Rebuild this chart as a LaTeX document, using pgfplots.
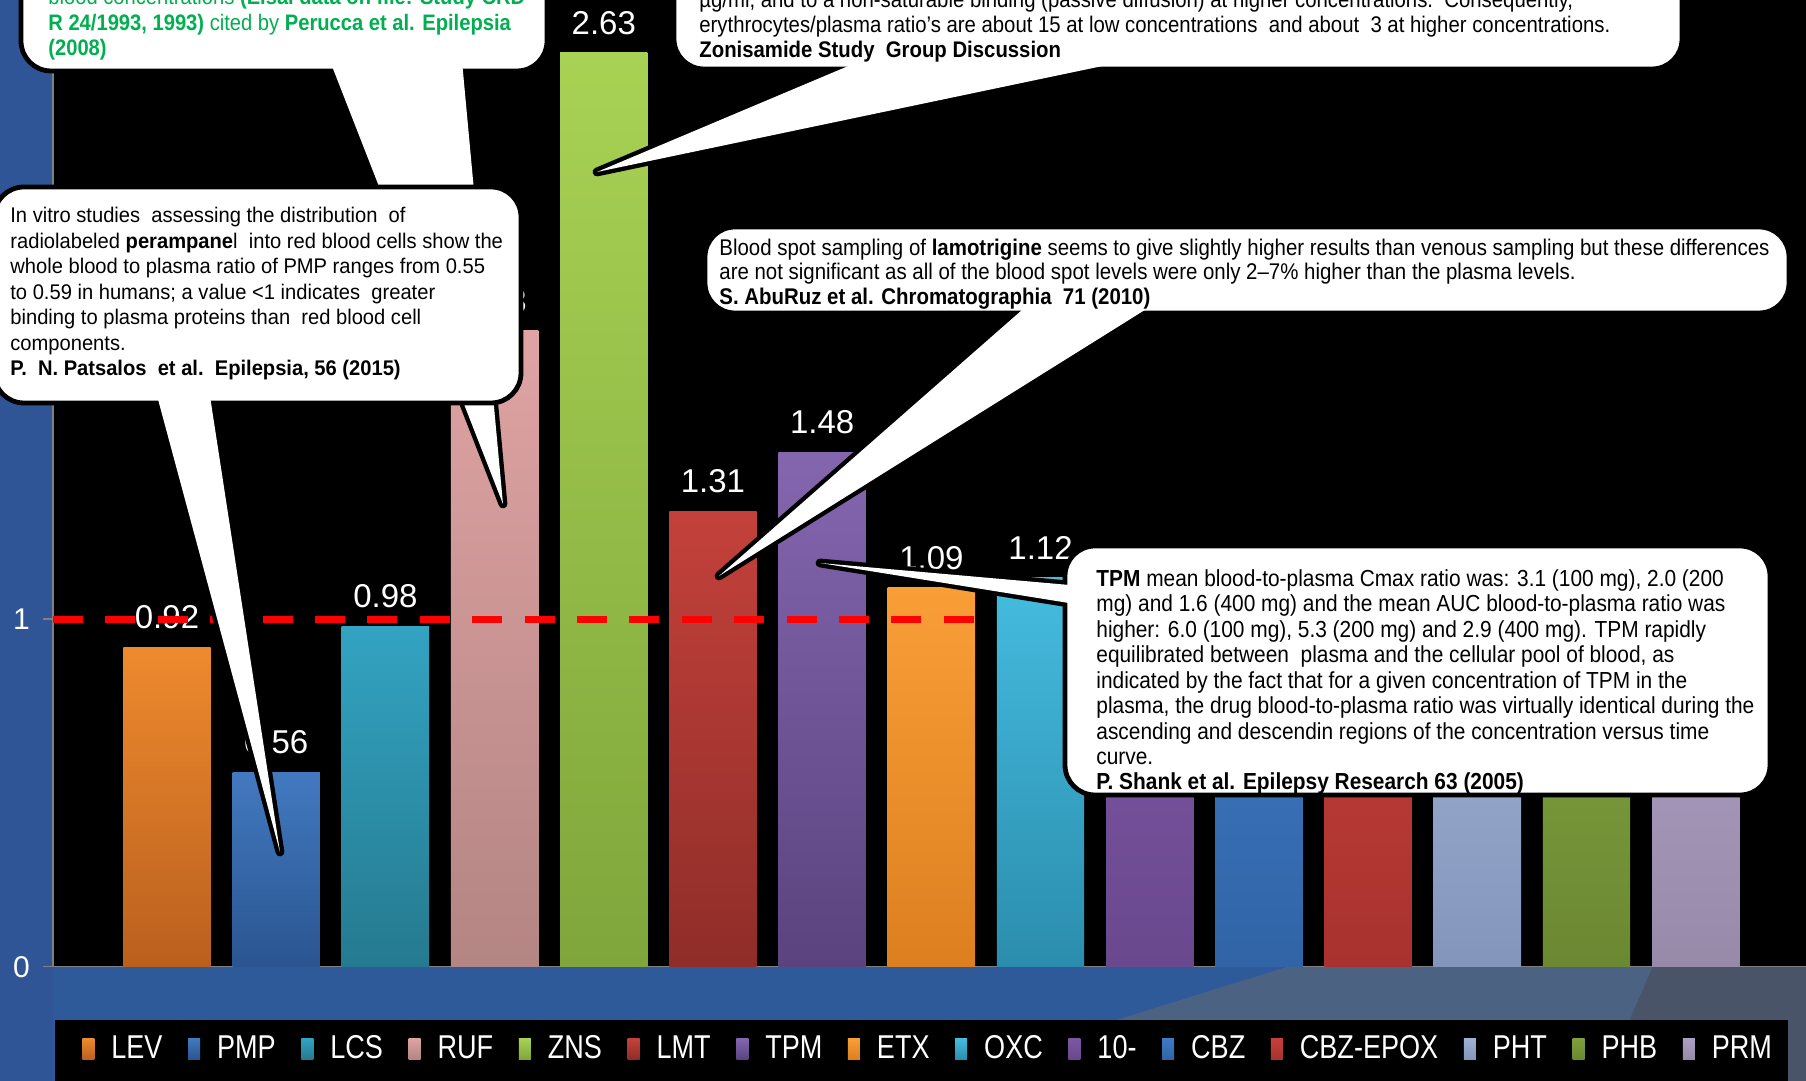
\documentclass[border=0pt]{standalone}
\usepackage{fontspec}
\setmainfont{Liberation Sans}
\newfontfamily\narrowfont{Liberation Sans}[FakeStretch=0.9]
\newfontfamily\pmpfont{Liberation Sans}[FakeStretch=0.95]
\newfontfamily\legfont{Liberation Sans}[FakeStretch=0.82]
\usepackage{pgfplots}
\pgfplotsset{compat=1.18}

\definecolor{bgblue}{HTML}{2F5596}
\definecolor{stripblue}{HTML}{2E5A9A}
\definecolor{graybl}{HTML}{4C6283}
\definecolor{dgray}{HTML}{4A5468}
\definecolor{axgray}{HTML}{808080}
\definecolor{zgreen}{HTML}{00B050}

\definecolor{levT}{HTML}{EE8A2E}\definecolor{levB}{HTML}{BA601E}
\definecolor{pmpT}{HTML}{4279C0}\definecolor{pmpB}{HTML}{2A5590}
\definecolor{lcsT}{HTML}{33A3C2}\definecolor{lcsB}{HTML}{257A8F}
\definecolor{rufT}{HTML}{DFA3A3}\definecolor{rufB}{HTML}{B38583}
\definecolor{znsT}{HTML}{A8D254}\definecolor{znsB}{HTML}{7FA63B}
\definecolor{lmtT}{HTML}{C4413B}\definecolor{lmtB}{HTML}{8F2D28}
\definecolor{tpmT}{HTML}{8466AF}\definecolor{tpmB}{HTML}{5A437E}
\definecolor{etxT}{HTML}{F99E37}\definecolor{etxB}{HTML}{DD7F1F}
\definecolor{oxcT}{HTML}{45BCDF}\definecolor{oxcB}{HTML}{2B8DAE}
\definecolor{mhdT}{HTML}{7B57A3}\definecolor{mhdB}{HTML}{6A488E}
\definecolor{cbzT}{HTML}{3F7AC6}\definecolor{cbzB}{HTML}{3064A6}
\definecolor{epoT}{HTML}{C63F3B}\definecolor{epoB}{HTML}{A8322E}
\definecolor{phtT}{HTML}{9DB1D3}\definecolor{phtB}{HTML}{8395BB}
\definecolor{phbT}{HTML}{7FA03E}\definecolor{phbB}{HTML}{6B8832}
\definecolor{prmT}{HTML}{AB9EC3}\definecolor{prmB}{HTML}{978AA9}

\pgfplotsset{
  plainbar/.style 2 args={ybar, bar width=0.8, bar shift=0pt, draw=none,
    top color=#1, bottom color=#2},
  mybar/.style 2 args={plainbar={#1}{#2},
    nodes near coords={\pgfmathprintnumber[fixed,fixed zerofill,precision=2]{\pgfplotspointmeta}},
    nodes near coords style={shade=false, fill=none, draw=none, text=white,
      font=\fontsize{16.5}{19}\selectfont, anchor=south, inner sep=0pt, yshift=9pt}},
}

\tikzset{
  cbox/.style={fill=white, draw=black, line width=2.4pt, rounded corners=15pt},
  cwedge/.style={fill=white, draw=black, line width=4.4pt, line join=round},
  ctext/.style={anchor=base west, inner sep=0pt},
}

\begin{document}
\begin{tikzpicture}
\useasboundingbox (0,0) rectangle (903pt,540.5pt);
\clip (0,0) rectangle (903pt,540.5pt);

\begin{scope}[shift={(0pt,540.5pt)}, x=0.5pt, y=-0.5pt]
  \fill[bgblue] (0,0) rectangle (1806,1081);
  \fill[stripblue] (53,966) rectangle (1806,1081);
  \fill[graybl] (1290,966) -- (1806,966) -- (1806,1081) -- (920,1081) -- cycle;
  \fill[dgray] (1653,966) -- (1806,966) -- (1806,1081) -- (1603,1081) -- cycle;
  \fill[black] (55,1020) rectangle (1788,1081);
\end{scope}

\begin{axis}[
  at={(26.5pt,57.15pt)}, anchor=south west,
  scale only axis, width=876.5pt, height=483.35pt,
  xmin=-1.044, xmax=15.01, ymin=0, ymax=2.782,
  axis background/.style={fill=black},
  axis lines*=left,
  axis line style={draw=axgray, line width=0.8pt},
  xtick=\empty,
  ytick={0,1},
  tick align=outside, major tick length=5pt,
  ytick style={draw=axgray, line width=0.8pt},
  yticklabel style={text=white, font=\fontsize{15}{18}\selectfont, xshift=-3pt},
  /pgf/number format/assume math mode=true,
  clip marker paths=true,
  legend columns=15,
  legend cell align=left,
  legend image code/.code={
    \draw[#1, draw=none] (0pt,-5.2pt) rectangle (6pt,5.2pt);
    \path (0pt,0pt) -- (14.5pt,0pt);
  },
  legend style={at={(0.01654,-0.0851)}, anchor=west, draw=none, fill=none,
    inner sep=0pt, text=white, font=\legfont\fontsize{16.5}{19}\selectfont,
    nodes={inner sep=0pt, text=white, font=\legfont\fontsize{16.5}{19}\selectfont},
    /tikz/every even column/.append style={column sep=12.8pt},
    /tikz/every odd column/.append style={column sep=0pt}},
]
\addplot[mybar={levT}{levB}] coordinates {(0,0.92)}; \addlegendentry{LEV}
\addplot[mybar={pmpT}{pmpB}] coordinates {(1,0.56)}; \addlegendentry{PMP}
\addplot[mybar={lcsT}{lcsB}] coordinates {(2,0.98)}; \addlegendentry{LCS}
\addplot[mybar={rufT}{rufB}] coordinates {(3,1.83)}; \addlegendentry{RUF}
\addplot[mybar={znsT}{znsB}] coordinates {(4,2.63)}; \addlegendentry{ZNS}
\addplot[mybar={lmtT}{lmtB}] coordinates {(5,1.31)}; \addlegendentry{LMT}
\addplot[mybar={tpmT}{tpmB}] coordinates {(6,1.48)}; \addlegendentry{TPM}
\addplot[mybar={etxT}{etxB}] coordinates {(7,1.09)}; \addlegendentry{ETX}
\addplot[mybar={oxcT}{oxcB}] coordinates {(8,1.12)}; \addlegendentry{OXC}
% the values of the following bars are hidden behind the TPM callout
\addplot[plainbar={mhdT}{mhdB}] coordinates {(9,1.00)}; \addlegendentry{10-}
\addplot[plainbar={cbzT}{cbzB}] coordinates {(10,1.05)}; \addlegendentry{CBZ}
\addplot[plainbar={epoT}{epoB}] coordinates {(11,1.02)}; \addlegendentry{CBZ-EPOX}
\addplot[plainbar={phtT}{phtB}] coordinates {(12,0.90)}; \addlegendentry{PHT}
\addplot[plainbar={phbT}{phbB}] coordinates {(13,0.88)}; \addlegendentry{PHB}
\addplot[plainbar={prmT}{prmB}] coordinates {(14,0.95)}; \addlegendentry{PRM}
\addplot[forget plot, color=red, line width=3.5pt, dash pattern=on 15pt off 11.2pt]
  coordinates {(-1.044,1) (7.42,1)};
\end{axis}

\begin{scope}[shift={(0pt,540.5pt)}, x=0.5pt, y=-0.5pt]
  % RUF callout
  \filldraw[cwedge] (330,61) -- (503,504) -- (462,61) -- cycle;
  \filldraw[cbox] (21,-60) rectangle (547,71);
  \fill[white] (330,61) -- (503,504) -- (462,61) -- cycle;
  \begin{scope}[every node/.style={ctext, text=zgreen, font=\narrowfont\fontsize{11.2}{13}\selectfont}]
    \node at (48,5) {blood concentrations \textbf{(Eisai data on file: Study CRD}};
    \node at (48,30.5) {\textbf{R 24/1993, 1993)} cited by \textbf{Perucca et al. Epilepsia}};
    \node at (48,56) {\textbf{(2008)}};
  \end{scope}

  % ZNS callout
  \filldraw[cwedge] (865,59) -- (597,172) -- (1136,59) -- cycle;
  \filldraw[cbox] (674,-60) rectangle (1682,69);
  \fill[white] (865,59) -- (597,172) -- (1136,59) -- cycle;
  \begin{scope}[every node/.style={ctext, text=black, font=\narrowfont\fontsize{11.3}{13}\selectfont}]
    \node at (699,8) {µg/ml, and to a non-saturable binding (passive diffusion) at higher concentrations.\ \ Consequently,};
    \node at (699,33) {erythrocytes/plasma ratio’s are about 15 at low concentrations\ \ and about\ \ 3 at higher concentrations.};
    \node at (699,58) {\textbf{Zonisamide Study\ \ Group Discussion}};
  \end{scope}

  % LMT callout
  \filldraw[cwedge] (1030,303) -- (719,576) -- (1156,303) -- cycle;
  \filldraw[cbox] (705,227) rectangle (1789,313);
  \fill[white] (1030,303) -- (719,576) -- (1156,303) -- cycle;
  \begin{scope}[every node/.style={ctext, text=black, font=\narrowfont\fontsize{11.35}{13}\selectfont}]
    \node at (719,256) {Blood spot sampling of \textbf{lamotrigine} seems to give slightly higher results than venous sampling but these differences};
    \node at (719,280) {are not significant as all of the blood spot levels were only 2–7\% higher than the plasma levels.};
    \node at (719,305) {\textbf{S. AbuRuz et al. Chromatographia\ \ 71 (2010)}};
  \end{scope}

  % TPM callout
  \filldraw[cwedge] (1075,585.5) -- (820,563) -- (1075,604) -- cycle;
  \filldraw[cbox] (1065,546) rectangle (1770,795);
  \fill[white] (1075,585.5) -- (820,563) -- (1075,604) -- cycle;
  \begin{scope}[every node/.style={ctext, text=black, font=\narrowfont\fontsize{11.6}{14}\selectfont}]
    \node at (1096,586.5) {\textbf{TPM} mean blood-to-plasma Cmax ratio was: 3.1 (100 mg), 2.0 (200};
    \node at (1096,612) {mg) and 1.6 (400 mg) and the mean AUC blood-to-plasma ratio was};
    \node at (1096,637.5) {higher: 6.0 (100 mg), 5.3 (200 mg) and 2.9 (400 mg). TPM rapidly};
    \node at (1096,663) {equilibrated between\ \ plasma and the cellular pool of blood, as};
    \node at (1096,688.5) {indicated by the fact that for a given concentration of TPM in the};
    \node at (1096,714) {plasma, the drug blood-to-plasma ratio was virtually identical during the};
    \node at (1096,739.5) {ascending and descendin regions of the concentration versus time};
    \node at (1096,765) {curve.};
    \node at (1096,790) {\textbf{P. Shank et al. Epilepsy Research 63 (2005)}};
  \end{scope}

  % PMP callout
  \filldraw[cwedge] (156.3,393) -- (280,852) -- (209.5,393) -- cycle;
  \filldraw[cbox] (-6,187) rectangle (521,403);
  \fill[white] (156.3,393) -- (280,852) -- (209.5,393) -- cycle;
  \begin{scope}[every node/.style={ctext, text=black, font=\pmpfont\fontsize{10.6}{12.8}\selectfont}]
    \node at (10,223) {In vitro studies\ \ assessing the distribution\ \ of};
    \node at (10,248.5) {radiolabeled \textbf{perampane}l\ \ into red blood cells show the};
    \node at (10,274) {whole blood to plasma ratio of PMP ranges from 0.55};
    \node at (10,299.5) {to 0.59 in humans; a value <1 indicates\ \ greater};
    \node at (10,325) {binding to plasma proteins than\ \ red blood cell};
    \node at (10,350.5) {components.};
    \node at (10,376) {\textbf{P.\ \ N. Patsalos\ \ et al.\ \ Epilepsia, 56 (2015)}};
  \end{scope}
\end{scope}
\end{tikzpicture}
\end{document}
